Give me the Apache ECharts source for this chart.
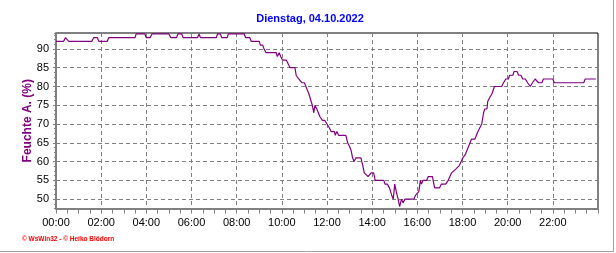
<!DOCTYPE html>
<html>
<head>
<meta charset="utf-8">
<script src="https://cdn.jsdelivr.net/npm/echarts@6/dist/echarts.min.js"></script>
<style>
html,body{margin:0;padding:0;background:#fff;}
#chart{width:616px;height:253px;}
</style>
</head>
<body>
<div id="chart"></div>
<script>
// time of day in minutes after midnight
const minutes = [0,20,25,30,34,95,100,110,114,136,140,210,213,236,240,250,255,300,305,320,324,334,338,376,380,384,426,429,437,440,455,458,500,504,515,519,540,543,549,553,558,585,588,593,597,602,612,617,622,635,638,642,645,648,653,660,664,669,672,675,678,681,685,688,693,697,701,708,714,720,726,731,740,742,746,751,757,770,775,780,784,788,792,797,810,815,819,824,829,834,837,844,848,871,874,880,886,892,896,900,904,909,913,918,922,927,951,955,964,968,971,975,985,989,1000,1006,1019,1024,1035,1042,1051,1062,1072,1081,1088,1096,1104,1113,1121,1131,1136,1139,1145,1147,1152,1158,1165,1184,1189,1195,1202,1205,1214,1217,1225,1229,1235,1240,1247,1253,1260,1266,1273,1277,1282,1291,1295,1320,1324,1402,1406,1434];
// outside humidity (%)
const humidity = [92,92,93,93,92,92,93,93,92,92,93,93,94,94,93,93,94,94,93,93,94,94,93,93,94,93,93,94,94,93,93,94,94,93,93,92,92,91,91,90,89,89,88,89,88,87,87,86,85,85,83,83,82,82,81,81,80,80,78,77,76,75,73,75,74,74,72,71,71,70,69,68,68,67,68,67,67,67,65,64,63,61,60,61,61,59,57,57,56,56,57,57,55,55,54,54,53,51,50,54,52,50,48,50,49,50,50,51,52,55,54,55,55,56,56,53,53,54,54,55,57,58,59,61,62,64,66,66,68,70,73,74,74,76,77,78,80,80,81,82,82,83,83,84,84,83,83,82,82,81,80,81,82,82,81,81,82,82,81,81,82,82];
const yTickValues = [50,55,60,65,70,75,80,85,90];
const xTickHours = [0,2,4,6,8,10,12,14,16,18,20,22];
const titleText = 'Dienstag, 04.10.2022';
const yName = 'Feuchte A. (%)';
const creditText = '\u00A9 WsWin32 - \u00A9 Heiko Bl\u00F6dorn';

const seriesData = minutes.map((m, i) => [m, humidity[i]]);
const chart = echarts.init(document.getElementById('chart'), null, {renderer: 'canvas'});
const font = 'Liberation Sans, Arial, sans-serif';
chart.setOption({
  animation: false,
  backgroundColor: '#ffffff',
  title: [
    {text: titleText, left: 310, textAlign: 'center', top: 13, padding: 0,
     textStyle: {color: '#0000ff', fontSize: 11, fontWeight: 'bold', fontFamily: font}},
    {text: creditText, left: 22, top: 236, padding: 0,
     textStyle: {color: '#ff0000', fontSize: 6.5, fontWeight: 'bold', fontFamily: font}}
  ],
  graphic: [
    {type: 'line', shape: {x1: 613.5, y1: 0, x2: 613.5, y2: 251.5}, style: {stroke: '#a0a0a0', lineWidth: 1}, silent: true},
    {type: 'line', shape: {x1: 0, y1: 251.5, x2: 613.5, y2: 251.5}, style: {stroke: '#a0a0a0', lineWidth: 1}, silent: true}
  ],
  grid: {left: 56, top: 33, width: 542, height: 175.5, show: true, borderColor: '#000000', borderWidth: 1, backgroundColor: '#ffffff', containLabel: false},
  xAxis: {
    type: 'value', min: 0, max: 1440, interval: 120,
    axisLine: {show: true, onZero: false, lineStyle: {color: '#808080', width: 2}},
    axisTick: {show: true, length: 5, lineStyle: {color: '#808080'}},
    minorTick: {show: true, splitNumber: 4, length: 5, lineStyle: {color: '#808080'}},
    splitLine: {show: true, lineStyle: {color: '#808080', type: [4, 3], width: 1}},
    axisLabel: {
      showMaxLabel: false, margin: 9, color: '#000000', fontSize: 11, fontFamily: font,
      formatter: v => (xTickHours.indexOf(v / 60) >= 0 ? String(v / 60).padStart(2, '0') + ':00' : '')
    }
  },
  yAxis: [
    {
      type: 'value', min: 47.5, max: 94.25,
      name: yName, nameLocation: 'middle', nameRotate: 90, nameGap: 22, nameMoveOverlap: false,
      nameTextStyle: {color: '#800080', fontSize: 12, fontWeight: 'bold', fontFamily: font},
      axisLine: {show: true, lineStyle: {color: '#808080', width: 2}},
      axisTick: {show: true, length: 3, customValues: yTickValues, lineStyle: {color: '#808080'}},
      splitLine: {show: true, lineStyle: {color: '#808080', type: [4, 3], width: 1}},
      axisLabel: {customValues: yTickValues, margin: 7, color: '#000000', fontSize: 11, fontFamily: font}
    },
    {
      type: 'value', min: 47.5, max: 94.25, interval: 1.25, position: 'left',
      axisLine: {show: false}, axisLabel: {show: false}, splitLine: {show: false},
      axisTick: {show: true, length: 2, lineStyle: {color: '#808080'}}
    }
  ],
  series: [{
    type: 'line', data: seriesData, yAxisIndex: 0, showSymbol: false, symbol: 'none',
    lineStyle: {color: '#800080', width: 1.2}, clip: true
  }]
});
</script>
</body>
</html>
